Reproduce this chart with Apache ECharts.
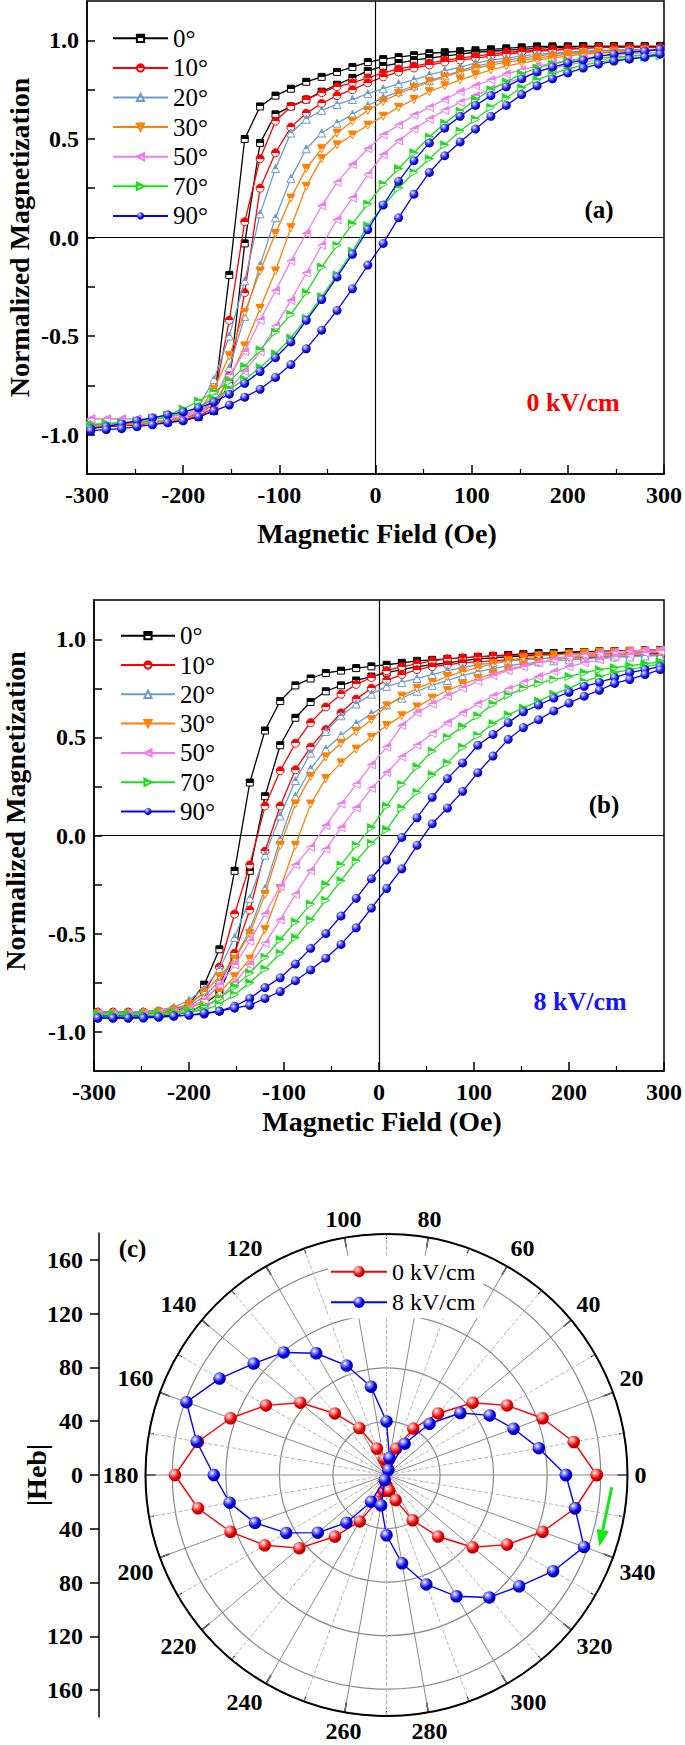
<!DOCTYPE html>
<html><head><meta charset="utf-8">
<script src="https://cdn.jsdelivr.net/npm/echarts@6/dist/echarts.min.js"></script>
<style>html,body{margin:0;padding:0;background:#fff}#c{width:685px;height:1745px}</style>
</head><body><div id="c"></div>
<script>
// ---------- data ----------
const fieldOe = [-296,-280,-264,-248,-232,-216,-200,-184,-168,-152,-136,-120,-104,-88,-72,-56,-40,-24,-8,8,24,40,56,72,88,104,120,136,152,168,184,200,216,232,248,264,280,296];
const angleNames = ['0°','10°','20°','30°','50°','70°','90°'];
const xTickLabels = [-300,-200,-100,0,100,200,300];
const yTickValues = [-1,-0.75,-0.5,-0.25,0,0.25,0.5,0.75,1];
const yLabelValues = [-1,-0.5,0,0.5,1];
const hebTickValues = [-160,-120,-80,-40,0,40,80,120,160];

// panel (a): 0 kV/cm  (Up = descending branch, Low = ascending branch)
const a0Up   = [-0.96,-0.955,-0.95,-0.945,-0.94,-0.93,-0.92,-0.90,-0.84,-0.19,0.50,0.665,0.72,0.755,0.79,0.815,0.84,0.865,0.89,0.905,0.915,0.925,0.935,0.94,0.945,0.95,0.955,0.96,0.965,0.97,0.97,0.97,0.97,0.97,0.97,0.97,0.97,0.97];
const a0Low  = [-0.96,-0.96,-0.955,-0.95,-0.94,-0.935,-0.925,-0.91,-0.88,-0.74,-0.03,0.48,0.625,0.665,0.70,0.74,0.775,0.81,0.845,0.87,0.885,0.90,0.91,0.92,0.93,0.94,0.945,0.95,0.955,0.96,0.965,0.965,0.97,0.97,0.97,0.97,0.97,0.97];
const a10Up  = [-0.96,-0.955,-0.95,-0.945,-0.94,-0.93,-0.92,-0.895,-0.82,-0.42,0.08,0.40,0.59,0.665,0.70,0.735,0.765,0.785,0.81,0.835,0.855,0.87,0.885,0.90,0.91,0.92,0.93,0.94,0.945,0.95,0.955,0.96,0.96,0.965,0.965,0.965,0.965,0.965];
const a10Low = [-0.96,-0.96,-0.955,-0.95,-0.94,-0.935,-0.925,-0.905,-0.865,-0.70,-0.28,0.25,0.43,0.56,0.63,0.68,0.72,0.75,0.785,0.815,0.84,0.86,0.875,0.89,0.90,0.91,0.92,0.93,0.94,0.945,0.95,0.955,0.96,0.965,0.965,0.965,0.965,0.965];
const a20Up  = [-0.95,-0.95,-0.945,-0.94,-0.935,-0.925,-0.91,-0.86,-0.72,-0.50,-0.22,0.12,0.35,0.53,0.60,0.645,0.675,0.70,0.73,0.755,0.78,0.80,0.825,0.845,0.865,0.885,0.90,0.91,0.92,0.93,0.935,0.94,0.945,0.95,0.95,0.955,0.955,0.955];
const a20Low = [-0.95,-0.95,-0.945,-0.94,-0.935,-0.925,-0.915,-0.885,-0.83,-0.66,-0.40,-0.14,0.10,0.30,0.45,0.53,0.58,0.625,0.67,0.71,0.74,0.77,0.795,0.82,0.845,0.87,0.885,0.90,0.91,0.92,0.93,0.935,0.94,0.945,0.95,0.95,0.955,0.955];
const a30Up  = [-0.96,-0.955,-0.95,-0.945,-0.94,-0.93,-0.915,-0.88,-0.77,-0.60,-0.38,-0.17,0.02,0.20,0.35,0.45,0.53,0.59,0.645,0.69,0.73,0.76,0.79,0.815,0.84,0.86,0.875,0.89,0.90,0.91,0.92,0.93,0.935,0.94,0.945,0.945,0.95,0.95];
const a30Low = [-0.96,-0.955,-0.95,-0.945,-0.94,-0.93,-0.92,-0.90,-0.84,-0.72,-0.55,-0.36,-0.17,0.05,0.26,0.40,0.47,0.52,0.57,0.615,0.66,0.70,0.74,0.77,0.80,0.825,0.85,0.87,0.885,0.90,0.91,0.92,0.93,0.935,0.94,0.945,0.95,0.95];
const a50Up  = [-0.92,-0.92,-0.92,-0.92,-0.915,-0.91,-0.90,-0.87,-0.80,-0.70,-0.58,-0.42,-0.27,-0.12,0.02,0.16,0.28,0.37,0.45,0.52,0.57,0.62,0.66,0.70,0.74,0.77,0.80,0.83,0.85,0.87,0.885,0.90,0.91,0.92,0.925,0.93,0.935,0.94];
const a50Low = [-0.92,-0.92,-0.92,-0.92,-0.92,-0.915,-0.91,-0.89,-0.84,-0.77,-0.68,-0.58,-0.45,-0.32,-0.18,-0.04,0.09,0.20,0.32,0.42,0.49,0.55,0.60,0.645,0.685,0.72,0.755,0.785,0.81,0.84,0.86,0.875,0.89,0.90,0.91,0.92,0.925,0.93];
const a70Up  = [-0.95,-0.945,-0.94,-0.93,-0.915,-0.90,-0.87,-0.83,-0.785,-0.73,-0.655,-0.57,-0.48,-0.39,-0.28,-0.15,-0.04,0.07,0.17,0.27,0.35,0.43,0.51,0.58,0.64,0.70,0.75,0.79,0.83,0.86,0.88,0.895,0.905,0.91,0.915,0.92,0.925,0.93];
const a70Low = [-0.95,-0.945,-0.94,-0.935,-0.925,-0.91,-0.89,-0.86,-0.82,-0.77,-0.72,-0.66,-0.59,-0.51,-0.41,-0.30,-0.19,-0.07,0.06,0.16,0.25,0.33,0.40,0.47,0.54,0.60,0.66,0.71,0.76,0.80,0.83,0.855,0.875,0.89,0.90,0.91,0.915,0.92];
const a90Up  = [-0.97,-0.96,-0.945,-0.93,-0.915,-0.90,-0.885,-0.865,-0.835,-0.795,-0.74,-0.68,-0.61,-0.53,-0.42,-0.315,-0.20,-0.085,0.04,0.165,0.285,0.39,0.48,0.555,0.615,0.67,0.72,0.765,0.805,0.84,0.865,0.885,0.90,0.92,0.93,0.94,0.945,0.955];
const a90Low = [-0.98,-0.975,-0.97,-0.96,-0.95,-0.94,-0.93,-0.91,-0.88,-0.85,-0.81,-0.77,-0.71,-0.645,-0.565,-0.47,-0.37,-0.26,-0.14,-0.03,0.10,0.22,0.33,0.415,0.485,0.55,0.615,0.67,0.725,0.77,0.805,0.835,0.86,0.88,0.895,0.905,0.915,0.93];

// panel (b): 8 kV/cm
const b0Up   = [-0.92,-0.92,-0.92,-0.92,-0.915,-0.905,-0.86,-0.76,-0.58,-0.18,0.27,0.535,0.685,0.765,0.80,0.828,0.84,0.853,0.862,0.87,0.88,0.89,0.895,0.90,0.905,0.91,0.915,0.92,0.925,0.93,0.93,0.935,0.935,0.94,0.94,0.94,0.945,0.945];
const b0Low  = [-0.92,-0.92,-0.92,-0.92,-0.92,-0.915,-0.90,-0.86,-0.80,-0.62,-0.18,0.20,0.46,0.60,0.68,0.735,0.765,0.79,0.81,0.83,0.845,0.86,0.87,0.88,0.89,0.90,0.905,0.91,0.915,0.92,0.925,0.93,0.935,0.935,0.94,0.94,0.945,0.945];
const b10Up  = [-0.90,-0.90,-0.90,-0.90,-0.895,-0.885,-0.86,-0.80,-0.67,-0.40,-0.15,0.15,0.33,0.47,0.575,0.655,0.72,0.77,0.805,0.84,0.86,0.875,0.89,0.90,0.905,0.91,0.915,0.915,0.92,0.92,0.92,0.925,0.925,0.925,0.925,0.925,0.925,0.93];
const b10Low = [-0.90,-0.90,-0.90,-0.90,-0.90,-0.895,-0.88,-0.84,-0.76,-0.60,-0.38,-0.08,0.15,0.335,0.45,0.54,0.625,0.695,0.75,0.79,0.82,0.845,0.86,0.87,0.88,0.885,0.89,0.895,0.90,0.90,0.905,0.905,0.905,0.91,0.91,0.915,0.92,0.92];
const b20Up  = [-0.90,-0.90,-0.90,-0.895,-0.89,-0.875,-0.84,-0.78,-0.68,-0.52,-0.32,-0.10,0.10,0.28,0.42,0.53,0.61,0.67,0.72,0.76,0.78,0.80,0.82,0.84,0.855,0.87,0.88,0.89,0.895,0.90,0.905,0.91,0.91,0.915,0.915,0.92,0.92,0.92];
const b20Low = [-0.90,-0.90,-0.90,-0.90,-0.895,-0.89,-0.87,-0.82,-0.74,-0.63,-0.48,-0.27,-0.02,0.20,0.34,0.44,0.51,0.57,0.62,0.665,0.70,0.735,0.765,0.79,0.815,0.835,0.85,0.865,0.875,0.885,0.89,0.895,0.90,0.905,0.91,0.91,0.915,0.915];
const b30Up  = [-0.91,-0.91,-0.91,-0.905,-0.90,-0.89,-0.86,-0.80,-0.72,-0.63,-0.50,-0.30,-0.05,0.16,0.30,0.40,0.47,0.53,0.59,0.66,0.71,0.75,0.78,0.81,0.835,0.855,0.875,0.89,0.905,0.915,0.92,0.925,0.93,0.935,0.935,0.94,0.94,0.94];
const b30Low = [-0.91,-0.91,-0.91,-0.91,-0.905,-0.90,-0.88,-0.85,-0.80,-0.72,-0.63,-0.48,-0.27,-0.05,0.16,0.29,0.37,0.44,0.50,0.56,0.61,0.655,0.70,0.74,0.77,0.80,0.825,0.845,0.865,0.88,0.895,0.905,0.915,0.92,0.925,0.93,0.935,0.935];
const b50Up  = [-0.91,-0.91,-0.91,-0.91,-0.905,-0.90,-0.88,-0.84,-0.76,-0.66,-0.54,-0.40,-0.26,-0.15,-0.06,0.05,0.16,0.26,0.36,0.45,0.56,0.625,0.67,0.71,0.75,0.785,0.815,0.84,0.86,0.88,0.895,0.91,0.92,0.93,0.935,0.94,0.945,0.945];
const b50Low = [-0.91,-0.91,-0.91,-0.91,-0.91,-0.905,-0.90,-0.88,-0.83,-0.75,-0.66,-0.55,-0.43,-0.30,-0.18,-0.07,0.04,0.14,0.24,0.32,0.40,0.46,0.52,0.575,0.625,0.67,0.71,0.745,0.78,0.81,0.835,0.86,0.88,0.895,0.91,0.92,0.93,0.94];
const b70Up  = [-0.91,-0.91,-0.91,-0.91,-0.905,-0.90,-0.89,-0.87,-0.83,-0.77,-0.70,-0.62,-0.53,-0.44,-0.35,-0.25,-0.15,-0.05,0.04,0.15,0.26,0.35,0.43,0.50,0.555,0.61,0.67,0.715,0.75,0.775,0.795,0.81,0.83,0.845,0.855,0.865,0.875,0.885];
const b70Low = [-0.92,-0.92,-0.92,-0.92,-0.915,-0.91,-0.90,-0.89,-0.86,-0.81,-0.75,-0.68,-0.60,-0.52,-0.43,-0.33,-0.23,-0.13,-0.04,0.03,0.14,0.22,0.31,0.37,0.45,0.51,0.57,0.615,0.65,0.685,0.72,0.75,0.785,0.81,0.83,0.845,0.86,0.875];
const b90Up  = [-0.93,-0.93,-0.93,-0.925,-0.925,-0.92,-0.915,-0.91,-0.895,-0.87,-0.83,-0.775,-0.725,-0.655,-0.575,-0.50,-0.41,-0.32,-0.22,-0.125,-0.01,0.09,0.195,0.29,0.37,0.46,0.515,0.575,0.63,0.665,0.70,0.73,0.76,0.78,0.805,0.83,0.845,0.86];
const b90Low = [-0.93,-0.93,-0.93,-0.93,-0.925,-0.92,-0.915,-0.905,-0.895,-0.88,-0.865,-0.83,-0.795,-0.74,-0.685,-0.625,-0.555,-0.47,-0.37,-0.27,-0.17,-0.05,0.06,0.14,0.225,0.32,0.405,0.49,0.55,0.59,0.635,0.675,0.71,0.74,0.775,0.795,0.82,0.845];

// panel (c): |Heb| vs angle
const polarAngles = [0,10,20,30,40,50,60,70,80,90,100,110,120,130,140,150,160,170,180,190,200,210,220,230,240,250,260,270,280,290,300,310,320,330,340,350];
const heb0kV = [157,142,124,104,84,60,40,21,12,8,12,21,40.5,60,84,104,124,143,158,143,124,105,85,60,40,21,12,8,12,20,39,60,84,104,124,143];
const heb8kV = [134,115.5,101,89,72,50,27,4,13,40,67,87,105,119.5,129.5,144,159,144,129,119,104.5,86.5,67,46.5,23,4,23,45,67,87,104.6,119.4,129.3,143.7,157,143];

// ---------- styling ----------
const SERIF = 'Liberation Serif, Times New Roman, serif';
const COLORS = ['#000000','#ff0000','#6b9bd1','#ff8000','#f07cf0','#19e019','#0000ff'];
const SYMBOLS = ['rect','circle','triangle','path://M0,0L10,0L5,10Z','path://M10,0L10,10L0,5Z','path://M0,0L10,5L0,10Z','circle'];
const SIZES = [7,8,8,8,8,8,9];

function half(c){
  return {type:'linear',x:0,y:0,x2:0,y2:1,colorStops:[{offset:0,color:c},{offset:0.5,color:c},{offset:0.5,color:'#fff'},{offset:1,color:'#fff'}]};
}
function ball(hi, mid, dark){
  return {type:'radial',x:0.36,y:0.32,r:0.72,colorStops:[{offset:0,color:'#ffffff'},{offset:0.22,color:hi},{offset:0.62,color:mid},{offset:1,color:dark}]};
}

const panelA = [[a0Up,a0Low],[a10Up,a10Low],[a20Up,a20Low],[a30Up,a30Low],[a50Up,a50Low],[a70Up,a70Low],[a90Up,a90Low]];
const panelB = [[b0Up,b0Low],[b10Up,b10Low],[b20Up,b20Low],[b30Up,b30Low],[b50Up,b50Low],[b70Up,b70Low],[b90Up,b90Low]];

function hyst(gi, k, vals, first){
  const s = {
    type:'line', name: angleNames[k], xAxisIndex: gi, yAxisIndex: gi,
    data: fieldOe.map((x,i)=>[x, vals[i]]),
    symbol: SYMBOLS[k], symbolSize: SIZES[k],
    lineStyle:{color: COLORS[k], width:1.3},
    itemStyle: k===6 ? {color: ball('#8f8fff','#1010f0','#00008c')} : {color: half(COLORS[k]), borderColor: COLORS[k], borderWidth: 1},
    z: 3 + k, silent: true, animation: false
  };
  if (first) {
    s.markLine = {silent:true, symbol:['none','none'], label:{show:false}, animation:false,
      lineStyle:{color:'#000', width:1.2, type:'solid'}, emphasis:{disabled:true},
      data:[{xAxis:0},{yAxis:0}]};
  }
  return s;
}

const series = [];
[panelA, panelB].forEach((panel, gi) => {
  panel.forEach((pair, k) => {
    series.push(hyst(gi, k, pair[0], k===0));
    series.push(hyst(gi, k, pair[1], false));
  });
});

series.push({
  type:'line', name:'0 kV/cm', coordinateSystem:'polar', polarIndex:0,
  data: polarAngles.map((a,i)=>[heb0kV[i], a]).concat([[heb0kV[0], 360]]),
  symbol:'circle', symbolSize:12.5, lineStyle:{color:'#ff0000', width:1.4},
  itemStyle:{color: ball('#ff9a9a','#f00000','#a00000')}, z:5, silent:true, animation:false
});
series.push({
  type:'line', name:'8 kV/cm', coordinateSystem:'polar', polarIndex:0,
  data: polarAngles.map((a,i)=>[heb8kV[i], a]).concat([[heb8kV[0], 360]]),
  symbol:'circle', symbolSize:12.5, lineStyle:{color:'#0000ff', width:1.4},
  itemStyle:{color: ball('#9a9aff','#0000f0','#00009a')}, z:6, silent:true, animation:false
});

function xAxisCfg(gi){
  return {type:'value', gridIndex:gi, min:xTickLabels[0], max:xTickLabels[xTickLabels.length-1], interval:100,
    axisLine:{onZero:false, lineStyle:{color:'#000', width:1.5}},
    axisTick:{inside:true, length:9, lineStyle:{color:'#000', width:1.5}},
    minorTick:{show:true, splitNumber:2, length:5, lineStyle:{color:'#000', width:1.2}},
    splitLine:{show:false}, minorSplitLine:{show:false},
    axisLabel:{fontFamily:SERIF, fontWeight:'bold', fontSize:24, color:'#000', margin:9, showMinLabel:true, showMaxLabel:true}};
}
function yAxisCfg(gi){
  return {type:'value', gridIndex:gi, min:-1.2, max:1.2,
    axisLine:{onZero:false, lineStyle:{color:'#000', width:1.5}},
    axisTick:{inside:true, length:8, lineStyle:{color:'#000', width:1.5}, customValues: yTickValues},
    axisLabel:{customValues: yLabelValues, formatter: v => Number(v).toFixed(1),
      fontFamily:SERIF, fontWeight:'bold', fontSize:24, color:'#000', margin:8},
    splitLine:{show:false}};
}
function legendCfg(left, top, gap, width){
  return {data: angleNames, orient:'vertical', left:left, top:top, padding:0, itemWidth:width, itemHeight:9, itemGap:gap,
    selectedMode:false, textStyle:{fontFamily:SERIF, fontSize:25, lineHeight:25, color:'#000'}};
}
function txt(x, y, text, size, color, bold, rot){
  return {type:'text', x:x, y:y, rotation: rot || 0, silent:true, z:100,
    style:{text:text, fill:color, fontFamily:SERIF, fontSize:size, fontWeight:bold?'bold':'normal', align:'center', verticalAlign:'middle'}};
}

const option = {
  backgroundColor:'#fff',
  animation:false,
  grid:[
    {left:87, top:1, width:580, height:473, show:true, borderColor:'#000', borderWidth:1.5, backgroundColor:'transparent'},
    {left:94, top:600, width:576, height:471, show:true, borderColor:'#000', borderWidth:1.5, backgroundColor:'transparent'},
    {left:99, top:1233, width:10, height:484, show:false}
  ],
  xAxis:[xAxisCfg(0), xAxisCfg(1), {type:'value', gridIndex:2, min:0, max:1, show:false}],
  yAxis:[yAxisCfg(0), yAxisCfg(1), {
    type:'value', gridIndex:2, min:-180, max:180,
    axisLine:{onZero:false, lineStyle:{color:'#000', width:1.5}},
    axisTick:{inside:false, length:9, lineStyle:{color:'#000', width:1.5}, customValues: hebTickValues},
    axisLabel:{customValues: hebTickValues, formatter: v => String(Math.abs(v)),
      fontFamily:SERIF, fontWeight:'bold', fontSize:24, color:'#000', margin:16},
    splitLine:{show:false}
  }],
  polar:{center:[386.5, 1475], radius:241},
  angleAxis:{type:'value', polarIndex:0, min:0, max:360, interval:20, startAngle:0, clockwise:false,
    axisLine:{lineStyle:{color:'#000', width:2}},
    axisTick:{show:true, inside:true, length:10, lineStyle:{color:'#000', width:1.5}},
    minorTick:{show:true, splitNumber:2, length:5, lineStyle:{color:'#000', width:1.2}},
    splitLine:{show:true, lineStyle:{color:'#8a8a8a', width:1}},
    minorSplitLine:{show:true, lineStyle:{color:'#b5b5b5', width:1, type:'dashed'}},
    axisLabel:{fontFamily:SERIF, fontWeight:'bold', fontSize:24, color:'#000', margin:7}},
  radiusAxis:{polarIndex:0, type:'value', min:0, max:180, interval:40,
    axisLine:{show:false}, axisTick:{show:false}, axisLabel:{show:false},
    splitLine:{show:true, lineStyle:{color:'#8a8a8a', width:1.2}}},
  legend:[
    legendCfg(112, 25.8, 4.6, 55),
    legendCfg(120, 623.2, 4.3, 54),
    {data:['0 kV/cm','8 kV/cm'], orient:'vertical', left:328, top:1255.7, padding:[4,8,4,2], backgroundColor:'#fff',
      itemWidth:56, itemHeight:14, itemGap:6.6, selectedMode:false,
      textStyle:{fontFamily:SERIF, fontSize:24, lineHeight:24, color:'#000'}}
  ],
  graphic:[
    txt(19, 237.5, 'Normalized Magnetization', 28, '#000', true, Math.PI/2),
    txt(15, 811, 'Normalized Magnetization', 28, '#000', true, Math.PI/2),
    txt(377, 533, 'Magnetic Field (Oe)', 28, '#000', true),
    txt(382, 1121, 'Magnetic Field (Oe)', 28, '#000', true),
    txt(599, 209, '(a)', 25, '#000', true),
    txt(604, 804, '(b)', 25, '#000', true),
    txt(573, 402, '0 kV/cm', 26, '#ff0000', true),
    txt(580, 1001, '8 kV/cm', 26, '#1414ff', true),
    txt(132.5, 1248, '(c)', 25, '#000', true),
    txt(36, 1475, '|Heb|', 28, '#000', true, Math.PI/2),
    {type:'line', silent:true, z:100, shape:{x1:611.7, y1:1487.3, x2:602.8, y2:1530.1}, style:{stroke:'#14e614', lineWidth:3}},
    {type:'polygon', silent:true, z:100, shape:{points:[[599.3,1546.7],[608.9,1531.3],[596.7,1528.9]]}, style:{fill:'#14e614'}}
  ],
  series: series
};

const chart = echarts.init(document.getElementById('c'), null, {renderer:'svg', width:685, height:1745});
chart.setOption(option);
</script>
</body></html>
